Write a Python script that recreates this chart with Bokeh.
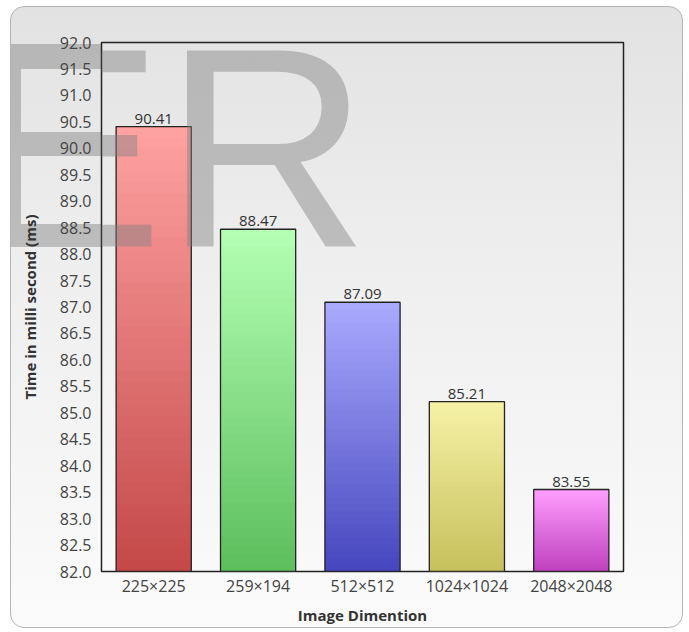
import numpy as np
from bokeh.plotting import figure
from bokeh.models import (ColumnDataSource, FixedTicker, NumeralTickFormatter,
                          Label, Range1d, FactorRange)
from bokeh.core.properties import value
from bokeh.embed import file_html
from bokeh.resources import INLINE

categories = ["225\u00d7225", "259\u00d7194", "512\u00d7512", "1024\u00d71024", "2048\u00d72048"]
times_ms = [90.41, 88.47, 87.09, 85.21, 83.55]
y_ticks = [82.0 + 0.5 * i for i in range(21)]
top_colors = ["#ffa2a2", "#b4ffb4", "#aaaaff", "#f6f2a6", "#ff9eff"]
bottom_colors = ["#c44848", "#5cbe5c", "#4646be", "#c6c05c", "#be40be"]

BASE = 82.0
FONT = "Open Sans"

# watermark parts of the letter E that fall outside the plot frame (CSS background layers)
WM = "linear-gradient(rgba(128,128,128,0.45),rgba(128,128,128,0.45))"
wm_parts = [
    f"{WM} 0px 37px / 90px 25px no-repeat",
    f"{WM} 0px 62px / 10px 63px no-repeat",
    f"{WM} 0px 125px / 90px 24px no-repeat",
    f"{WM} 0px 149px / 10px 68px no-repeat",
    f"{WM} 0px 217px / 90px 23px no-repeat",
    "linear-gradient(to bottom, #e2e2e2 0%, #eeeeee 40%, #fbfbfb 100%)",
]

# panel: 10..683 x 6..628 in the window
p = figure(width=673, height=622, x_range=FactorRange(*categories, range_padding=0),
           y_range=Range1d(82.0, 92.0), output_backend="svg", toolbar_location=None,
           min_border_left=90, min_border_right=61, min_border_top=35, min_border_bottom=58)
p.margin = (6, 6, 4, 10)
p.styles = {"border": "1.5px solid #b4b4b4", "border-radius": "14px",
            "background": ", ".join(wm_parts),
            "box-sizing": "border-box"}
p.x_range.factor_padding = 0

p.border_fill_alpha = 0.0
p.background_fill_alpha = 0.0
p.outline_line_color = "#222222"
p.outline_line_width = 1.5
p.grid.visible = False

# gradient bars (style only: each bar split in slices between base and its value)
N = 40
xs, bots, tops, cols = [], [], [], []
def hex2rgb(h):
    return np.array([int(h[i:i + 2], 16) for i in (1, 3, 5)], dtype=float)
for cat, v, ct, cb in zip(categories, times_ms, top_colors, bottom_colors):
    edges = np.linspace(BASE, v, N + 1)
    a, b = hex2rgb(ct), hex2rgb(cb)
    for i in range(N):
        t = (i + 0.5) / N
        c = b + (a - b) * t
        xs.append(cat)
        bots.append(edges[i])
        tops.append(min(edges[i + 1] + 0.03, v))
        cols.append("#%02x%02x%02x" % tuple(int(round(k)) for k in c))
grad = ColumnDataSource(dict(x=xs, bottom=bots, top=tops, color=cols))
p.vbar(x="x", bottom="bottom", top="top", width=0.72, fill_color="color",
       line_color=None, source=grad)

src = ColumnDataSource(dict(x=categories, top=times_ms,
                            label=["%.2f" % t for t in times_ms]))
p.vbar(x="x", bottom=BASE, top="top", width=0.72, fill_alpha=0,
       line_color="#222222", line_width=1.3, source=src)
p.text(x="x", y="top", text="label", source=src, text_align="center",
       text_baseline="bottom", y_offset=-3, text_font=value(FONT),
       text_font_size="15px", text_color="#333333")

# axes
p.yaxis.ticker = FixedTicker(ticks=y_ticks)
p.yaxis.formatter = NumeralTickFormatter(format="0.0")
for ax in (p.xaxis[0], p.yaxis[0]):
    ax.axis_line_color = None
    ax.major_tick_line_color = None
    ax.minor_tick_line_color = None
    ax.major_tick_out = 0
    ax.major_tick_in = 0
    ax.minor_tick_out = 0
    ax.minor_tick_in = 0
    ax.major_label_text_font = FONT
    ax.major_label_text_font_size = "16px"
    ax.major_label_text_color = "#444444"
    ax.axis_label_text_font = FONT
    ax.axis_label_text_font_style = "bold"
    ax.axis_label_text_font_size = "15px"
    ax.axis_label_text_color = "#333333"
p.yaxis.major_label_standoff = 10
p.xaxis.major_label_standoff = 3
p.yaxis.axis_label = "Time in milli second (ms)"
p.xaxis.axis_label = "Image Dimention"
p.yaxis.axis_label_standoff = 17
p.xaxis.axis_label_standoff = 5

# watermark letters from the scanned page
wm = Label(x=-39, y=139, x_units="canvas", y_units="canvas", text="ER",
           text_font="Liberation Sans", text_font_size="285px",
           text_color="#808080", text_alpha=0.45, text_baseline="alphabetic",
           level="overlay")
p.add_layout(wm)

open("out.html", "w").write(file_html(p, INLINE))
